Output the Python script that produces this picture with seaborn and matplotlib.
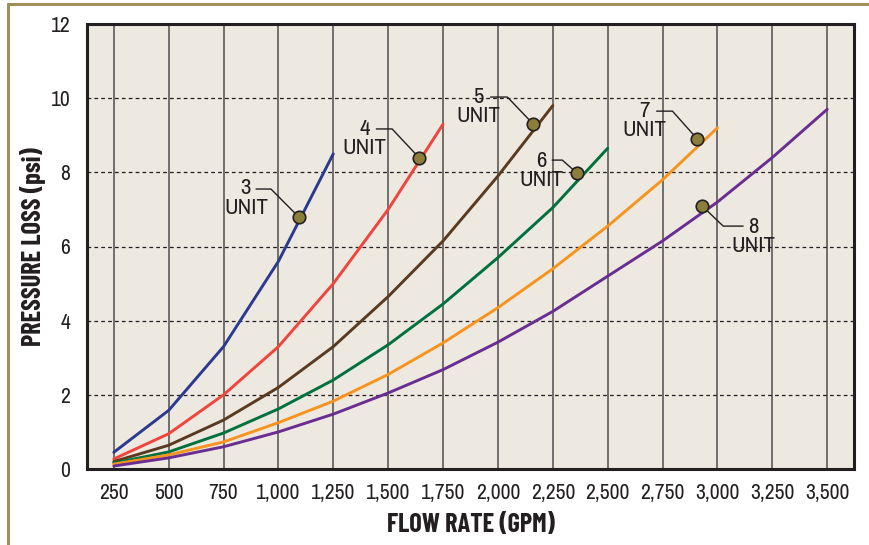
import numpy as np
import pandas as pd
import matplotlib.pyplot as plt
import seaborn as sns

# -----------------------------------------
# 1. DATA
# -----------------------------------------

flow = [250, 500, 750, 1000, 1250, 1500, 1750, 2000, 2250, 2500, 2750, 3000, 3250, 3500]

unit_3 = [0.45, 1.58, 3.3, 5.6, 8.5]
unit_4 = [0.27, 0.95, 2.0, 3.3, 5.0, 7.0, 9.3]
unit_5 = [0.2, 0.64, 1.32, 2.2, 3.3, 4.65, 6.15, 7.9, 9.8]
unit_6 = [0.16, 0.46, 0.97, 1.62, 2.4, 3.35, 4.45, 5.7, 7.05, 8.65]
unit_7 = [0.13, 0.38, 0.73, 1.25, 1.83, 2.55, 3.4, 4.35, 5.4, 6.55, 7.8, 9.2]
unit_8 = [0.08, 0.3, 0.6, 1.0, 1.48, 2.05, 2.68, 3.42, 4.25, 5.2, 6.15, 7.2, 8.4, 9.7]

unit_names = ["3", "4", "5", "6", "7", "8"]
unit_colors = ["#2b3990", "#f0443c", "#5b3a1f", "#00703c", "#f7941d", "#6a2d91"]

# callout markers on each curve
marker_x = [1092, 1640, 2161, 2360, 2908, 2931]
marker_y = [6.8, 8.4, 9.3, 7.98, 8.9, 7.09]

# label centres and leader elbows
label_x = [852, 1391, 1912, 2197, 2668, 3162]
label_y = [7.31, 8.91, 9.78, 8.05, 9.40, 6.27]
leader_start_x = [898, 1446, 1966, 2247, 2723, 3117]
leader_elbow_x = [966, 1518, 2043, 2293, 2795, 3026]
leader_y = [7.55, 9.17, 10.03, 8.33, 9.65, 6.55]

x_ticks = flow
y_ticks = [0, 2, 4, 6, 8, 10, 12]

# -----------------------------------------
# 2. BUILD LONG TABLE
# -----------------------------------------

series = [unit_3, unit_4, unit_5, unit_6, unit_7, unit_8]
rows = []
for name, vals in zip(unit_names, series):
    for x, y in zip(flow, vals):
        rows.append({"flow": x, "loss": y, "unit": name})
df = pd.DataFrame(rows)

# -----------------------------------------
# 3. PLOT
# -----------------------------------------

sns.set_theme(style="white")
plt.rcParams["font.family"] = ["Archivo Narrow", "DejaVu Sans"]
bold_font = ["Barlow Condensed", "DejaVu Sans"]
ink = "#231f20"

fig = plt.figure(figsize=(8.69, 5.45), dpi=100)
ax = fig.add_axes([87 / 869, 1 - 469 / 545, (854 - 87) / 869, (469 - 24) / 545])
ax.set_facecolor("#ede9e1")

sns.lineplot(data=df, x="flow", y="loss", hue="unit", palette=unit_colors,
             linewidth=2.1, legend=False, ax=ax, zorder=3)

ax.set_xlim(128, 3622)
ax.set_ylim(0, 12)
ax.set_xticks(x_ticks)
ax.set_xticklabels([f"{v:,}" for v in x_ticks])
ax.set_yticks(y_ticks)

# grid: solid verticals, dashed horizontals
for x in x_ticks:
    ax.axvline(x, color="#5a5a5a", lw=1.2, zorder=1)
for y in y_ticks[1:-1]:
    ax.axhline(y, color=ink, lw=0.9, ls=(0, (3, 2.5)), zorder=1)

for s in ax.spines.values():
    s.set_color(ink)
    s.set_linewidth(2.2)

ax.tick_params(axis="both", length=0, labelsize=15.5, colors=ink)
ax.tick_params(axis="x", pad=10)
ax.tick_params(axis="y", pad=12)

ax.set_xlabel("FLOW RATE (GPM)", fontsize=19, fontweight="bold", family=bold_font,
              color=ink, labelpad=7)
ax.set_ylabel("PRESSURE LOSS (psi)", fontsize=19, fontweight="bold", family=bold_font,
              color=ink, labelpad=3)

# callouts
for i, name in enumerate(unit_names):
    ax.plot([leader_start_x[i], leader_elbow_x[i], marker_x[i]],
            [leader_y[i], leader_y[i], marker_y[i]],
            color=ink, lw=1.0, zorder=4)
    ax.plot(marker_x[i], marker_y[i], "o", ms=9, mfc="#8b7d3a", mec=ink,
            mew=1.2, zorder=5)
    ax.text(label_x[i], label_y[i], f"{name}\nUNIT", ha="center", va="center",
            fontsize=16.5, linespacing=0.95, color=ink, zorder=6)

# outer tan frame
fig.add_artist(plt.Line2D([8 / 869, 8 / 869], [0, 1 - 4 / 545], color="#a08f5a", lw=2.2))
fig.add_artist(plt.Line2D([8 / 869, 1], [1 - 4 / 545, 1 - 4 / 545], color="#a08f5a", lw=2.2))

plt.savefig("out.png", dpi=100)
